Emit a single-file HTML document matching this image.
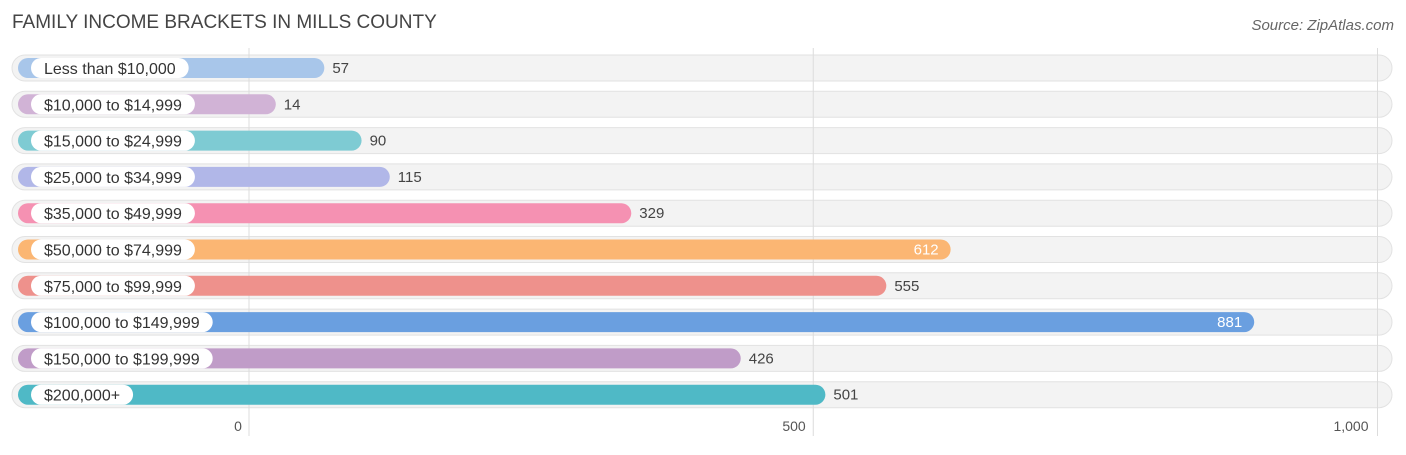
<!DOCTYPE html>
<html><head><meta charset="utf-8"><style>
body{margin:0;width:1406px;height:450px;background:#fff;overflow:hidden;font-family:"Liberation Sans",sans-serif}
</style></head><body>
<svg id="chart" width="1406" height="450">
<text x="12" y="28" font-size="19" fill="#444">FAMILY INCOME BRACKETS IN MILLS COUNTY</text>
<text x="1394" y="30" font-size="15" fill="#666" font-style="italic" text-anchor="end">Source: ZipAtlas.com</text>
<g id="grid"></g><g id="rows"></g>
</svg>
<script>
const categories=["Less than $10,000","$10,000 to $14,999","$15,000 to $24,999","$25,000 to $34,999","$35,000 to $49,999","$50,000 to $74,999","$75,000 to $99,999","$100,000 to $149,999","$150,000 to $199,999","$200,000+"];
const values=[57,14,90,115,329,612,555,881,426,501];
const colors=["#a8c6ea","#d1b3d6","#7ecbd3","#b1b7e8","#f591b2","#fbb673","#ee918c","#6a9fe0","#c09cc8","#4fb9c6"];
const tickValues=[0,500,1000];
const tickLabels=["0","500","1,000"];
const NS="http://www.w3.org/2000/svg";
const x=v=>249+v*1.1285;
const y=i=>68+i*36.3;
function mk(t,a,p){const e=document.createElementNS(NS,t);for(const k in a)e.setAttribute(k,a[k]);p.appendChild(e);return e;}
const rows=document.getElementById('rows');
categories.forEach((c,i)=>{
  const tr=mk('rect',{x:12,y:y(i)-13,width:1380,height:26,rx:13,fill:'#f3f3f3',stroke:'#e2e2e2','stroke-width':1},rows);
  
  
});
tickValues.forEach((t,j)=>{
  const l=mk('line',{x1:x(t),x2:x(t),y1:48,y2:436,stroke:'#dcdcdc','stroke-width':1},rows);
  
  
  const tx=mk('text',{x:j==0?238:(j==1?794:1351),y:431,'font-size':14,fill:'#555','text-anchor':'middle'},rows);
  tx.textContent=tickLabels[j];
  
  
});
categories.forEach((c,i)=>{
  const end=x(values[i])+11;
  const b=mk('rect',{x:18,y:y(i)-10,width:end-18,height:20,rx:10,fill:colors[i]},rows);
  
  
  const lt=mk('text',{x:44,y:y(i)+6,'font-size':16,fill:'#333'},rows);
  lt.textContent=c;
  
  
  const w=lt.getComputedTextLength();
  const pill=mk('rect',{x:31,y:y(i)-10,width:w+26,height:20,rx:10,fill:'#fff'},rows);
  
  
  rows.appendChild(lt);
  const inside=values[i]>600;
  const vt=mk('text',{x:inside?end-12:end+8,y:y(i)+5,'font-size':15,fill:inside?'#fff':'#444','text-anchor':inside?'end':'start'},rows);
  vt.textContent=values[i];
  
  
});
</script>
</body></html>
